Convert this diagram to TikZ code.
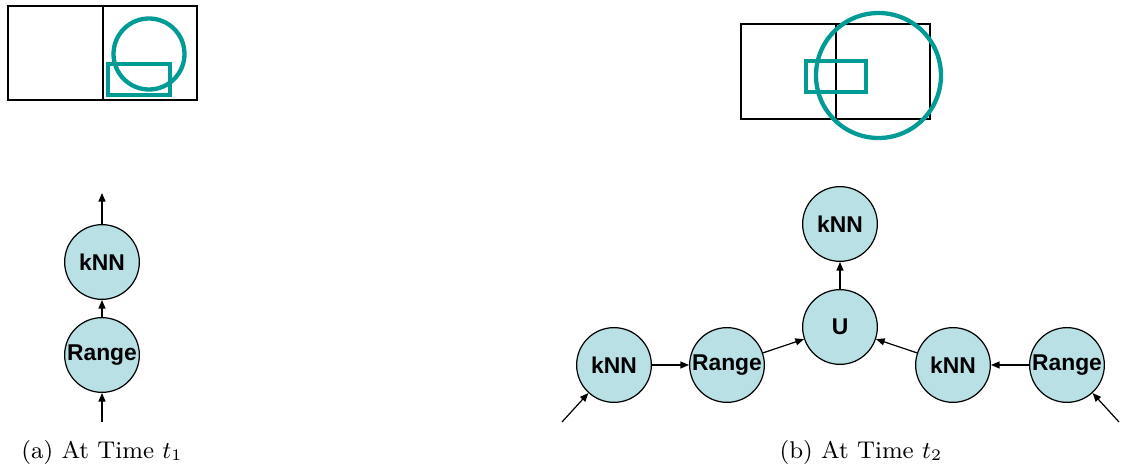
\documentclass[tikz,border=0pt]{standalone}
\usepackage{fontspec}
\newfontfamily\nodefont{Liberation Sans}
\usetikzlibrary{arrows.meta}
\definecolor{regioncol}{RGB}{0,155,149}
\definecolor{opfill}{RGB}{185,224,228}
\tikzset{
  op/.style={circle, draw=black, line width=0.45pt, fill=opfill,
    minimum size=27.8pt, inner sep=0pt, font=\nodefont\bfseries\fontsize{8.5pt}{9pt}\selectfont},
  flow/.style={-{Triangle[length=3.2pt,width=2.6pt]}, line width=0.45pt},
  cell/.style={draw=black, line width=0.55pt},
  region/.style={draw=regioncol, line width=1.6pt},
  caption/.style={font=\fontsize{9pt}{11pt}\selectfont},
}
\begin{document}
\begin{tikzpicture}[x=0.372pt, y=-0.372pt]
\useasboundingbox (0,0) rectangle (1121,468);

% spatial grid and query regions at time t1
\draw[cell] (8,6) rectangle (197,100);
\draw[cell] (103,6) -- (103,100);
\draw[region] (149,54) circle[radius=35.5];
\draw[region] (108,64) rectangle (170,95);

% spatial grid and query regions at time t2
\draw[cell] (741,24) rectangle (930,119);
\draw[cell] (836,24) -- (836,119);
\draw[region] (878.5,75.5) circle[radius=62.5];
\draw[region] (806,61) rectangle (866,92);

% plan at time t1
\node[op] (k1) at (102,262) {kNN};
\node[op] (r1) at (102,355) {Range};
\coordinate (in1) at (102,422);
\coordinate (out1) at (102,193);
\draw[flow] (in1) -- (r1);
\draw[flow] (r1) -- (k1);
\draw[flow] (k1) -- (out1);

% plan at time t2
\node[op] (kt) at (840,224) {kNN};
\node[op] (u)  at (840,327) {U};
\node[op] (kl) at (614,365) {kNN};
\node[op] (rl) at (727,365) {Range};
\node[op] (kr) at (953,365) {kNN};
\node[op] (rr) at (1067,365) {Range};
\coordinate (inl) at (562,422);
\coordinate (inr) at (1119,422);
\draw[flow] (inl) -- (kl);
\draw[flow] (kl) -- (rl);
\draw[flow] (rl) -- (u);
\draw[flow] (inr) -- (rr);
\draw[flow] (rr) -- (kr);
\draw[flow] (kr) -- (u);
\draw[flow] (u) -- (kt);

% captions
\node[caption] (capa) at (102,452) {(a) At Time $t_1$};
\node[caption] (capb) at (861,452) {(b) At Time $t_2$};
\end{tikzpicture}
\end{document}
